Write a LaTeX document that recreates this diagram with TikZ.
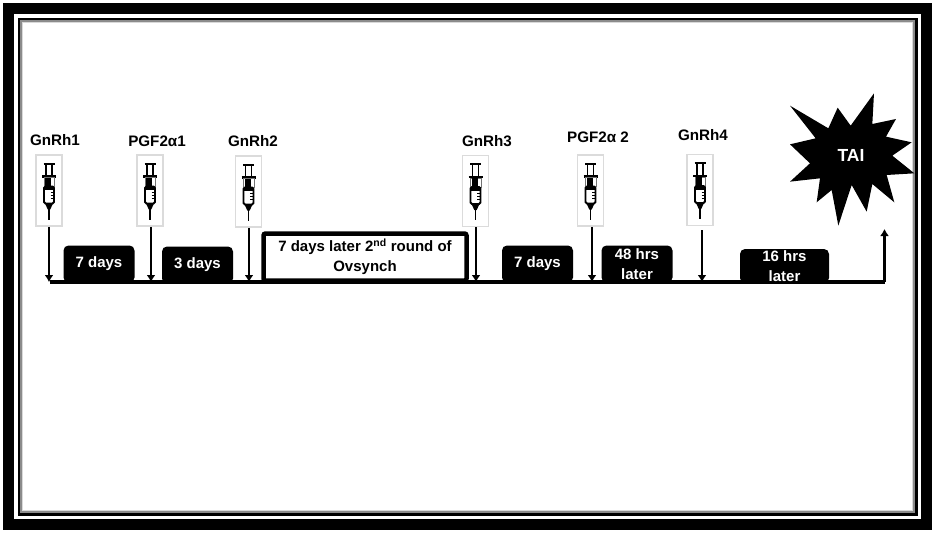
\documentclass[tikz,border=0pt]{standalone}
\usepackage{fontspec}
\setmainfont{Liberation Sans}
\usetikzlibrary{positioning,arrows.meta}

\tikzset{
  syringe/.pic={
    % plunger
    \draw[line width=1.3pt] (-3,-27) -- (-3,-14) (3,-27) -- (3,-14);
    \draw[line width=2pt] (-5.5,-27) -- (5.5,-27);
    \draw[line width=2.4pt] (-7,-14) -- (7,-14);
    \draw[line width=1pt,black!55] (-5,-13) rectangle (5.5,-4);
    \fill (-4,-13) rectangle (2,-5);
    % barrel
    \draw[line width=1.8pt,rounded corners=1.5pt,fill=white] (-5,-4) rectangle (5,13);
    \fill (-5,-4) rectangle (5,-0.5);
    \draw[line width=0.9pt] (1.5,2) -- (5,2) (1.5,5) -- (5,5) (1.5,8) -- (5,8);
    % needle
    \fill (-4,13) -- (4,13) -- (1.2,19) -- (-1.2,19) -- cycle;
    \draw[line width=1.5pt] (0,16) -- (0,29);
  }
}

\begin{document}
\begin{tikzpicture}[
x=1pt,y=-1pt,
frameout/.style={
  draw,
  line width=10.5pt,
  inner sep=0pt,
  minimum width=918pt,
  minimum height=516pt
},
framein/.style={
  draw,
  line width=3pt,
  inner sep=0pt,
  minimum width=897pt,
  minimum height=495pt
},
frameglow/.style={
  draw=black!45,
  line width=1.2pt,
  inner sep=0pt,
  minimum width=893pt,
  minimum height=491pt
},
frameglow2/.style={
  draw=black!15,
  line width=1.6pt,
  inner sep=0pt,
  minimum width=890pt,
  minimum height=488pt
},
drug/.style={
  font=\fontsize{15.2}{17}\selectfont\bfseries,
  inner sep=0pt
},
card/.style={
  draw=black!14,
  fill=white,
  line width=1.6pt,
  inner sep=0pt,
  minimum width=26pt,
  minimum height=71pt
},
gap/.style={
  fill=black,
  text=white,
  rounded corners=5pt,
  inner sep=0pt,
  align=center,
  minimum width=71pt,
  minimum height=37pt,
  font=\fontsize{15}{20}\selectfont\bfseries
},
shot/.style={
  -{Latex[length=7pt,width=9pt]},
  line width=2.2pt
}
]
\useasboundingbox (0,0) rectangle (935,533);

\node[frameout] (outer) at (467.5,266.5) {};
\node[framein] (inner) at (467.5,266.5) {};
\node[frameglow] (glow) at (467.5,266.5) {};
\node[frameglow2] (glowb) at (467.5,266.5) {};

\coordinate (start) at (50,282);
\coordinate (end) at (884.5,282);
\coordinate (tip) at (884.5,229);

\draw[line width=3.2pt] (start) -- (end);

\node[card] (card1) at (49,190.5) {};
\node[card] (card2) at (150,190.5) {};
\node[card] (card3) at (248.5,191.5) {};
\node[card] (card4) at (475.5,191) {};
\node[card] (card5) at (590.5,190.5) {};
\node[card] (card6) at (700,190) {};

\pic at (card1) {syringe};
\pic at (card2) {syringe};
\pic at (card3) {syringe};
\pic at (card4) {syringe};
\pic at (card5) {syringe};
\pic at (card6) {syringe};

\node[drug] (gnrh1) at (55,140) {GnRh1};
\node[drug] (pgf1) at (157,141) {PGF2α1};
\node[drug] (gnrh2) at (253,141) {GnRh2};
\node[drug] (gnrh3) at (487,141) {GnRh3};
\node[drug] (pgf2) at (598,137) {PGF2α 2};
\node[drug] (gnrh4) at (703,135) {GnRh4};

\node[gap] (wait1) at (99,264) {7 days};
\node[gap] (wait2) at (197.5,265) {3 days};
\node[draw,line width=4.5pt,rounded corners=2pt,inner sep=0pt,align=center,
  minimum width=203pt,minimum height=47pt,
  font=\fontsize{15}{20}\selectfont\bfseries] (round2) at (365,257)
  {7 days later 2\textsuperscript{nd} round of\\Ovsynch};
\node[gap] (wait3) at (537.5,264) {7 days};
\node[gap] (wait4) at (637,264) {48 hrs\\later};
\node[gap,minimum width=89pt,minimum height=34pt] (wait5) at (784.5,266) {16 hrs\\later};

\draw[shot] (card1.south) -- (card1.south|-start);
\draw[shot] ([xshift=1pt]card2.south) -- ([xshift=1pt]card2.south|-start);
\draw[shot] ([xshift=0.5pt]card3.south) -- ([xshift=0.5pt]card3.south|-start);
\draw[shot] ([xshift=0.5pt]card4.south) -- ([xshift=0.5pt]card4.south|-start);
\draw[shot] ([xshift=1.5pt]card5.south) -- ([xshift=1.5pt]card5.south|-start);
\draw[shot] ([xshift=2pt,yshift=-4pt]card6.south) -- ([xshift=2pt]card6.south|-start);
\draw[shot] (end) -- (tip);

\begin{scope}[shift={(785,85)},scale=0.3333]
\fill (15,62) -- (130,130) -- (158,68) -- (197,122) -- (267,25) -- (262,117)
  -- (333,102) -- (303,155) -- (380,172) -- (322,212) -- (388,265) -- (305,270)
  -- (328,352) -- (262,297) -- (245,380) -- (200,300) -- (160,422) -- (140,315)
  -- (95,352) -- (105,280) -- (15,290) -- (75,235) -- (15,178) -- (92,160) -- cycle;
\end{scope}
\node[text=white,font=\fontsize{17.5}{20}\selectfont\bfseries,inner sep=0pt] (tai) at (851,155) {TAI};
\end{tikzpicture}
\end{document}
